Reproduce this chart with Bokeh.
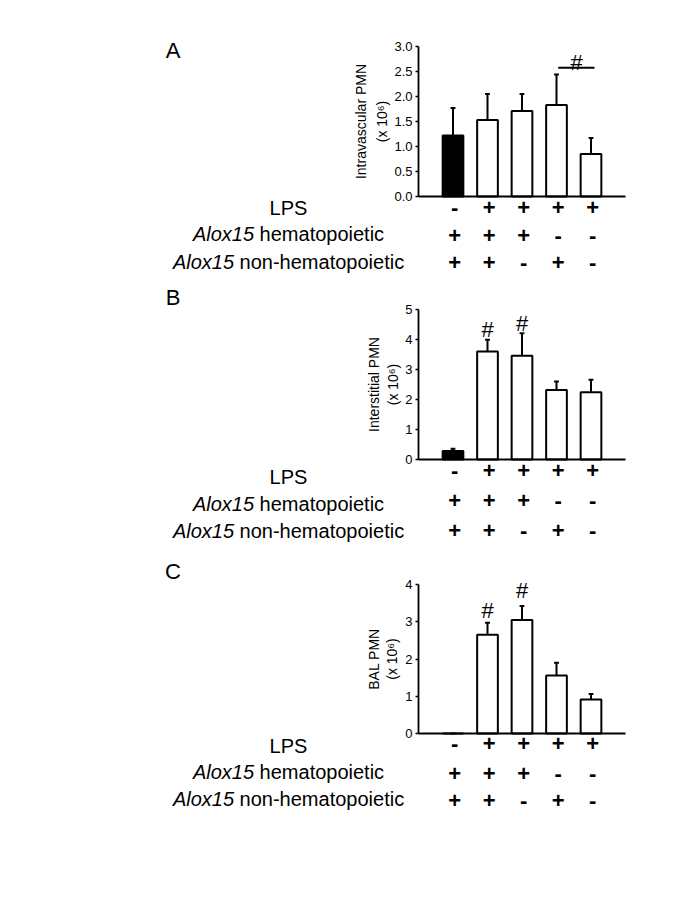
import math
from bokeh.plotting import figure
from bokeh.models import Range1d, Label, FixedTicker, PrintfTickFormatter
from bokeh.layouts import column
from bokeh.embed import file_html
from bokeh.resources import INLINE

# ---------------- data ----------------
groups = [1, 2, 3, 4, 5]
lps_row = ["-", "+", "+", "+", "+"]
hema_row = ["+", "+", "+", "-", "-"]
nonhema_row = ["+", "+", "-", "+", "-"]
row_names = ["LPS", "Alox15 hematopoietic", "Alox15 non-hematopoietic"]

a_mean = [1.22, 1.53, 1.71, 1.83, 0.85]
a_sem = [0.55, 0.52, 0.34, 0.61, 0.32]
b_mean = [0.28, 3.60, 3.46, 2.32, 2.24]
b_sem = [0.08, 0.39, 0.75, 0.28, 0.42]
c_mean = [0.00, 2.65, 3.05, 1.56, 0.91]
c_sem = [0.00, 0.32, 0.37, 0.34, 0.15]

a_ticks = [0.0, 0.5, 1.0, 1.5, 2.0, 2.5, 3.0]
b_ticks = [0, 1, 2, 3, 4, 5]
c_ticks = [0, 1, 2, 3, 4]

# ---------------- geometry / style ----------------
FONT = "Liberation Sans"
W = 677
BLM = 60            # left border (axis itself drawn at a fixed data location)
BT = 8              # top border (holds the baseline axis' panel)
AXIS_X = 418        # page x of data x = 0
PPX = 34.5          # pixels per group
XMAX = 6.0


def make_panel(letter, mean, sem, ticks, fmt, ylabel, top, height, base, ppu,
               fills, label_offs, sign_offs, letter_page_y, ylab_x, hash_groups, hash_gaps,
               bracket=None):
    ymax = ticks[-1]

    def xd(px):
        return (px - AXIS_X) / PPX

    def yd(py):
        return (base - py) / ppu

    p = figure(width=W, height=height, output_backend="svg", toolbar_location=None,
               title=None, x_axis_location="above",
               x_range=Range1d(xd(BLM), xd(W)),
               y_range=Range1d(yd(top + height), yd(top + BT)),
               min_border_left=BLM, min_border_right=0, min_border_top=BT,
               min_border_bottom=0,
               background_fill_color="white", border_fill_color="white")
    p.outline_line_color = None
    p.xgrid.visible = False
    p.ygrid.visible = False

    # y axis
    yax = p.yaxis[0]
    yax.fixed_location = 0
    yax.bounds = (0, ymax)
    yax.ticker = FixedTicker(ticks=ticks)
    yax.formatter = PrintfTickFormatter(format=fmt)
    yax.axis_line_width = 1.8
    yax.major_tick_line_width = 1.5
    yax.major_tick_out = 3
    yax.major_tick_in = 0
    yax.minor_tick_line_color = None
    yax.major_label_text_font = FONT
    yax.major_label_text_font_size = "13px"
    yax.major_label_text_color = "black"
    yax.major_label_standoff = 3
    # x axis (baseline only)
    xax = p.xaxis[0]
    xax.fixed_location = 0
    xax.bounds = (0, XMAX)
    xax.ticker = FixedTicker(ticks=[])
    xax.axis_line_width = 1.8
    xax.major_tick_line_color = None
    xax.minor_tick_line_color = None
    xax.major_tick_out = 0
    xax.major_tick_in = 0
    xax.major_label_standoff = 0
    xax.major_label_text_font_size = "0px"

    # error bars (upper only)
    tops = [m + s for m, s in zip(mean, sem)]
    cap = 0.07
    p.segment(x0=groups, y0=mean, x1=groups, y1=tops, line_color="black", line_width=2)
    p.segment(x0=[g - cap for g in groups], y0=tops, x1=[g + cap for g in groups], y1=tops,
              line_color="black", line_width=2)
    # bars
    p.vbar(x=groups, top=mean, bottom=0, width=0.6, fill_color=fills,
           line_color="black", line_width=2)

    def lab(**kw):
        kw.setdefault("text_font", FONT)
        kw.setdefault("text_color", "black")
        p.add_layout(Label(**kw))

    # significance marks
    for g, gap in zip(hash_groups, hash_gaps):
        i = groups.index(g)
        lab(x=g, y=tops[i] + gap / ppu, text="#", text_font_size="22px",
            text_align="center", text_baseline="alphabetic")
    if bracket is not None:
        g0, g1, gap_line, gap_hash = bracket
        yl = max(tops[groups.index(g0)], tops[groups.index(g1)]) + gap_line / ppu
        p.segment(x0=[g0 + 0.05], y0=[yl], x1=[g1 + 0.1], y1=[yl], line_color="black",
                  line_width=2)
        lab(x=(g0 + g1) / 2 + 0.08, y=yl + gap_hash / ppu, text="#", text_font_size="22px",
            text_align="center", text_baseline="alphabetic")

    # panel letter
    lab(x=xd(172.5), y=yd(letter_page_y), text=letter, text_font_size="22px",
        text_align="center", text_baseline="middle")

    # y axis title (two lines, rotated)
    mid = yd((base + (base - ymax * ppu)) / 2)
    lab(x=xd(ylab_x[0]), y=mid, text=ylabel, text_font_size="14px",
        text_align="center", text_baseline="middle", angle=math.pi / 2)
    lab(x=xd(ylab_x[1]), y=mid, text="(x 10\u2076)", text_font_size="14px",
        text_align="center", text_baseline="middle", angle=math.pi / 2)

    # condition table
    fs = 20
    w_alox = 3.335 * fs          # "Alox15 " (incl. space)
    w_hema = 6.225 * fs
    w_nonhema = 8.226 * fs
    cx = 288
    lab(x=xd(cx), y=yd(base + label_offs[0]), text=row_names[0],
        text_font_size=f"{fs}px", text_align="center", text_baseline="middle")
    for k, rest_w in ((1, w_hema), (2, w_nonhema)):
        start = cx - (w_alox + rest_w) / 2
        yy = yd(base + label_offs[k])
        first, rest = row_names[k].split(" ", 1)
        lab(x=xd(start), y=yy, text=first, text_font_size=f"{fs}px",
            text_font_style="italic", text_align="left", text_baseline="middle")
        lab(x=xd(start + w_alox), y=yy, text=rest, text_font_size=f"{fs}px",
            text_align="left", text_baseline="middle")
    for row, off in zip((lps_row, hema_row, nonhema_row), sign_offs):
        for g, s in zip(groups, row):
            lab(x=g + 0.05, y=yd(base + off), text=s, text_font_size="22px",
                text_font_style="bold", text_align="center", text_baseline="middle")
    return p


fills_ab = ["black", "white", "white", "white", "white"]

pA = make_panel("A", a_mean, a_sem, a_ticks, "%.1f", "Intravascular PMN",
                top=0, height=276, base=196, ppu=50, fills=fills_ab,
                label_offs=[11, 37.5, 65], sign_offs=[11, 39, 66], letter_page_y=50,
                ylab_x=(360, 381), hash_groups=[], hash_gaps=[],
                bracket=(4, 5, 6.7, 5))
pB = make_panel("B", b_mean, b_sem, b_ticks, "%d", "Interstitial PMN",
                top=276, height=276, base=459, ppu=30, fills=fills_ab,
                label_offs=[17.7, 44.3, 71], sign_offs=[11, 41, 71], letter_page_y=297,
                ylab_x=(373, 392), hash_groups=[2, 3], hash_gaps=[10, 10])
pC = make_panel("C", c_mean, c_sem, c_ticks, "%d", "BAL PMN",
                top=552, height=300, base=733, ppu=37.25, fills=fills_ab,
                label_offs=[12, 38.7, 65.3], sign_offs=[10.3, 40.3, 67], letter_page_y=571,
                ylab_x=(373, 391), hash_groups=[2, 3], hash_gaps=[12, 16])

layout = column(pA, pB, pC, spacing=0)
open("out.html", "w").write(file_html(layout, INLINE))
